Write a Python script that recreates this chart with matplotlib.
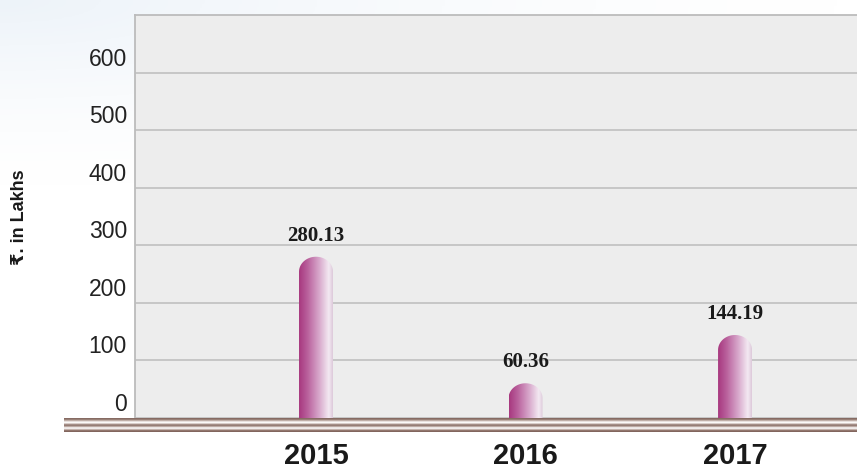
import numpy as np
import matplotlib
matplotlib.use('Agg')
import matplotlib.pyplot as plt
from matplotlib.path import Path
from matplotlib.patches import PathPatch
from matplotlib.colors import LinearSegmentedColormap


years = ['2015', '2016', '2017']
amounts = [280.13, 60.36, 144.19]
yticks = [0, 100, 200, 300, 400, 500, 600]

W, H = 857, 472
fig = plt.figure(figsize=(W / 100, H / 100), dpi=100)
fig.patch.set_facecolor('white')

# soft bluish haze behind everything
bg = fig.add_axes([0, 0, 1, 1], zorder=-5)
gy, gx = np.mgrid[0:1:200j, 0:1:400j]
haze = np.clip(1 - np.hypot(gx * 1.0, gy * 2.5), 0, 1) ** 1.5
bg.imshow(haze, cmap=LinearSegmentedColormap.from_list('haze', ['#ffffff', '#edf3f9']),
          extent=[0, 1, 0, 1], aspect='auto', vmin=0, vmax=1)
bg.axis('off')

# plot box (pixels)
left, right, top, base = 135, 857, 15, 418
ymax = 700
ax = fig.add_axes([left / W, 1 - base / H, (right - left) / W, (base - top) / H])
ax.set_facecolor('#ededed')
xlim = (-0.864, 2.582)

for v in yticks:
    ax.axhline(v, color='#c6c6c6', lw=1.4, zorder=1)
    ax.annotate(str(v), xy=(0, v), xycoords=ax.get_yaxis_transform(),
                xytext=(-8, 2), textcoords='offset pixels', ha='right', va='bottom',
                fontsize=16.5, family=['Liberation Sans', 'DejaVu Sans'], color='#222222')

# cylinder-like bars: horizontal gradient clipped to a rounded-top outline
bar_cmap = LinearSegmentedColormap.from_list(
    'bar', [(0, '#a8387f'), (0.25, '#b9609c'), (0.6, '#d8a9cc'), (0.88, '#f3e9f2'), (1, '#ddc9da')])
grad = np.linspace(0, 1, 256).reshape(1, -1)
px_x = (right - left) / (xlim[1] - xlim[0])
px_y = (base - top) / ymax
dx = 17 / px_x
ry = 15 / px_y
for i, v in enumerate(amounts):
    t = np.linspace(np.pi, 0, 40)
    arc = np.column_stack([i + dx * np.cos(t), v - ry + ry * np.sin(t)])
    verts = np.vstack([[i - dx, 0], [i - dx, v - ry], arc, [i + dx, 0], [i - dx, 0]])
    codes = [Path.MOVETO] + [Path.LINETO] * (len(verts) - 2) + [Path.CLOSEPOLY]
    outline = PathPatch(Path(verts, codes), transform=ax.transData, facecolor='none', lw=0)
    im = ax.imshow(grad, cmap=bar_cmap, extent=[i - dx, i + dx, 0, v], aspect='auto', zorder=3)
    im.set_clip_path(outline)
    ax.annotate(f'{v:.2f}', xy=(i, v), xytext=(0, 11), textcoords='offset pixels',
                ha='center', va='bottom', fontsize=15, fontweight='bold',
                family=['Liberation Serif', 'DejaVu Serif'], color='#1a1a1a')
    ax.annotate(years[i], xy=(i, 0), xytext=(0, -38), textcoords='offset pixels',
                ha='center', va='center', fontsize=21, fontweight='bold',
                family=['Liberation Sans', 'DejaVu Sans'], color='#1a1a1a', annotation_clip=False)

ax.set_xlim(*xlim)
ax.set_ylim(0, ymax)
ax.set_xticks([])
ax.set_yticks([])
for s in ['bottom', 'right']:
    ax.spines[s].set_visible(False)
for s in ['left', 'top']:
    ax.spines[s].set_color('#bcbcbc')
    ax.spines[s].set_linewidth(1.3)

# striped floor under the bars
floor = fig.add_axes([64 / W, 1 - 432 / H, (W - 64) / W, 14 / H], zorder=5)
stripes = ['#866b63', '#9b8279', '#c9b9b3', '#f3eeec', '#ffffff', '#c0aea8',
           '#8d736b', '#a28a82', '#e4dbd8', '#fcfafa', '#cfc1bc', '#94796f', '#82665e']
rgb = np.array([matplotlib.colors.to_rgb(c) for c in stripes])[:, None, :]
floor.imshow(rgb, aspect='auto', extent=[0, 1, 0, 1], interpolation='bilinear')
floor.axis('off')

fig.text(20 / W, 1 - 217 / H, '₹. in Lakhs', rotation=90, ha='center', va='center',
         fontsize=13, fontweight='bold', family=['Liberation Sans', 'DejaVu Sans'], color='#1a1a1a')

plt.savefig('out.png', dpi=100)
